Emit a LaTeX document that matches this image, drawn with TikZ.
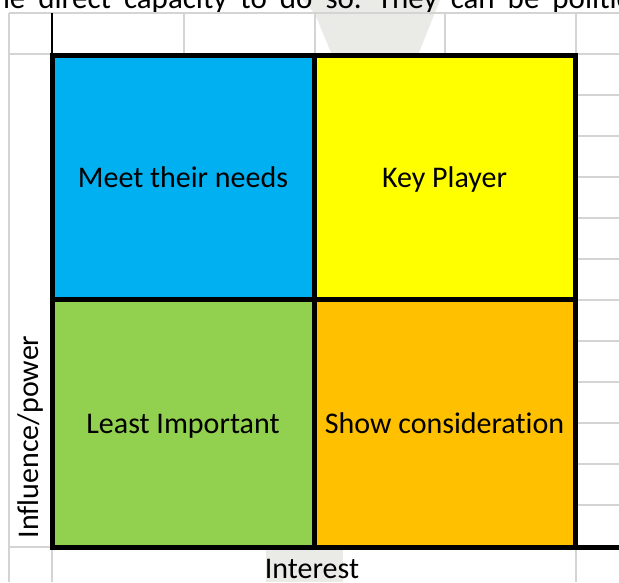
\documentclass[tikz,border=0pt]{standalone}
\usepackage{fontspec}
\setmainfont{Carlito}[Ligatures=NoCommon]
\definecolor{cellblue}{HTML}{00B0F0}
\definecolor{cellyellow}{HTML}{FFFF00}
\definecolor{cellgreen}{HTML}{92D050}
\definecolor{cellorange}{HTML}{FFC000}
\definecolor{gridgray}{HTML}{D4D4D4}
\definecolor{markgray}{HTML}{EAEAE6}
\tikzstyle{quad}=[draw=black,line width=5pt,inner sep=0pt,minimum width=262pt,text height=26pt,text depth=6pt,font=\fontsize{30}{36}\selectfont]
\tikzstyle{gridline}=[gridgray,line width=2pt]
\tikzstyle{axis}=[inner sep=0pt,font=\fontsize{30}{36}\selectfont]

\begin{document}
\begin{tikzpicture}[x=1pt,y=-1pt]
    \useasboundingbox (0,0) rectangle (619,582);
    \clip (0,0) rectangle (619,582);
    % watermark behind the sheet
    \fill[markgray] (303,0) -- (440,0) -- (418,55) -- (332,55) -- (315,14) -- cycle;
    \fill[markgray] (266,549) rectangle (343,582);
    % line of text above the sheet
    \node[anchor=base west,inner sep=0pt,font=\fontsize{31}{37}\selectfont] (body) at (-17,8)
        {\spaceskip=13pt the direct capacity to do so. They can be politically};
    % spreadsheet grid
    \draw[gridline] (9,13) -- (619,13);
    \draw[gridline] (9,13) -- (9,582);
    \draw[gridline] (9,54) -- (52,54);
    \draw[gridline] (9,547) -- (52,547);
    \foreach \x in {184,315,445,576}
        \draw[gridline] (\x,13) -- (\x,55);
    \foreach \y in {54,95,...,505}
        \draw[gridline] (577,\y) -- (619,\y);
    \foreach \x in {52,576}
        \draw[gridline] (\x,547) -- (\x,582);
    \draw[black,line width=2.5pt] (52,13) -- (52,55);
    \draw[black,line width=5pt] (575,547) -- (619,547);
    % the four quadrants
    \node[quad,fill=cellblue,minimum height=244pt] (meet) at (183,177) {Meet their needs};
    \node[quad,fill=cellyellow,minimum height=244pt,minimum width=261pt] (key) at (444.5,177) {Key Player};
    \node[quad,fill=cellgreen,minimum height=248pt] (least) at (183,423) {Least Important};
    \node[quad,fill=cellorange,minimum height=248pt,minimum width=261pt] (show) at (444.5,423) {Show consideration};
    % axis labels
    \node[axis,rotate=90] (power) at (31,437) {Influence/power};
    \node[axis,anchor=base] (interest) at (312,578) {Interest};
\end{tikzpicture}
\end{document}
